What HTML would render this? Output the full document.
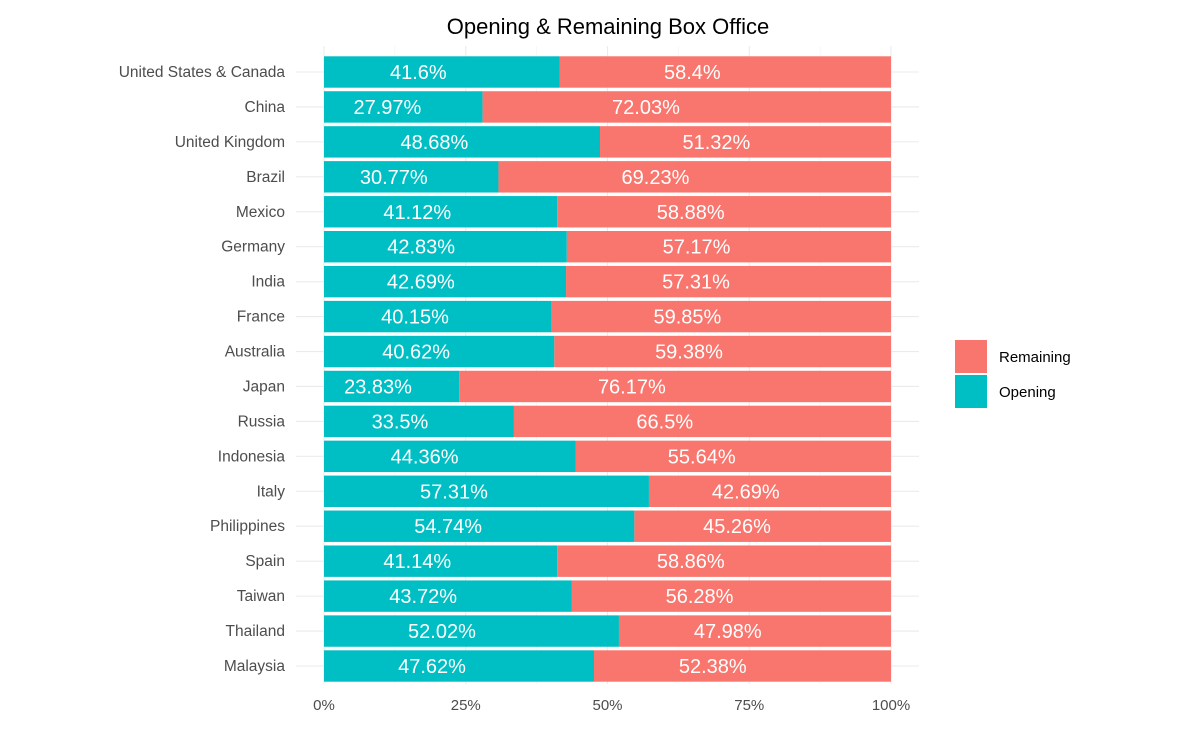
<!DOCTYPE html>
<html><head><meta charset="utf-8"><style>
body{margin:0;background:#fff;font-family:"Liberation Sans",Arial,sans-serif;}
</style></head><body>
<svg id="chart" width="1177" height="731" xmlns="http://www.w3.org/2000/svg" font-family="Liberation Sans, Arial, sans-serif">
<text x="608" y="34" text-anchor="middle" font-size="22" fill="#000">Opening &amp; Remaining Box Office</text>
<g id="grid"></g><g id="bars"></g><g id="labels"></g><g id="axes"></g>
<g>
<rect x="955" y="340" width="32" height="33" fill="#F8766D"/>
<text x="999" y="362" font-size="15" fill="#000">Remaining</text>
<rect x="955" y="375" width="32" height="33" fill="#00BFC4"/>
<text x="999" y="397" font-size="15" fill="#000">Opening</text>
</g>
</svg>
<script>
const categories=["United States & Canada","China","United Kingdom","Brazil","Mexico","Germany","India","France","Australia","Japan","Russia","Indonesia","Italy","Philippines","Spain","Taiwan","Thailand","Malaysia"];
const opening=[41.6,27.97,48.68,30.77,41.12,42.83,42.69,40.15,40.62,23.83,33.5,44.36,57.31,54.74,41.14,43.72,52.02,47.62];
const remaining=[58.4,72.03,51.32,69.23,58.88,57.17,57.31,59.85,59.38,76.17,66.5,55.64,42.69,45.26,58.86,56.28,47.98,52.38];
const ticks=[0,25,50,75,100];
const tickLabels=["0%","25%","50%","75%","100%"];
const NS="http://www.w3.org/2000/svg";
const x=v=>324+v/100*567;
const y=i=>72+i*(666-72)/17;
const bh=31.4;
const lp=0.4;
function mk(t,a,p){const e=document.createElementNS(NS,t);for(const k in a)e.setAttribute(k,a[k]);document.getElementById(p).appendChild(e);return e;}
[12.5,37.5,62.5,87.5].forEach(v=>{const l=mk('line',{x1:x(v),x2:x(v),y1:46,y2:684,stroke:'#f2f2f2','stroke-width':0.6},'grid');

});
ticks.forEach((v,i)=>{const l=mk('line',{x1:x(v),x2:x(v),y1:46,y2:684,stroke:'#ebebeb','stroke-width':1.1},'grid');


const t=mk('text',{x:x(v),y:710,'text-anchor':'middle','font-size':15,fill:'#4d4d4d'},'axes');t.textContent=tickLabels[i];

});
categories.forEach((c,i)=>{const g=mk('line',{x1:296,x2:919,y1:y(i),y2:y(i),stroke:'#ebebeb','stroke-width':1.1},'grid');


const t=mk('text',{x:285,y:y(i)+5,'text-anchor':'end','font-size':15.5,fill:'#4d4d4d'},'axes');t.textContent=c;


const a=mk('rect',{x:x(0),y:y(i)-bh/2,width:x(opening[i])-x(0),height:bh,fill:'#00BFC4'},'bars');


const b=mk('rect',{x:x(opening[i]),y:y(i)-bh/2,width:x(opening[i]+remaining[i])-x(opening[i]),height:bh,fill:'#F8766D'},'bars');


const la=mk('text',{x:x(opening[i]*lp),y:y(i)+7,'text-anchor':'middle','font-size':20,fill:'#fff'},'labels');la.textContent=opening[i]+'%';


const lb=mk('text',{x:x(opening[i]+remaining[i]*lp),y:y(i)+7,'text-anchor':'middle','font-size':20,fill:'#fff'},'labels');lb.textContent=remaining[i]+'%';

});
</script>
</body></html>
